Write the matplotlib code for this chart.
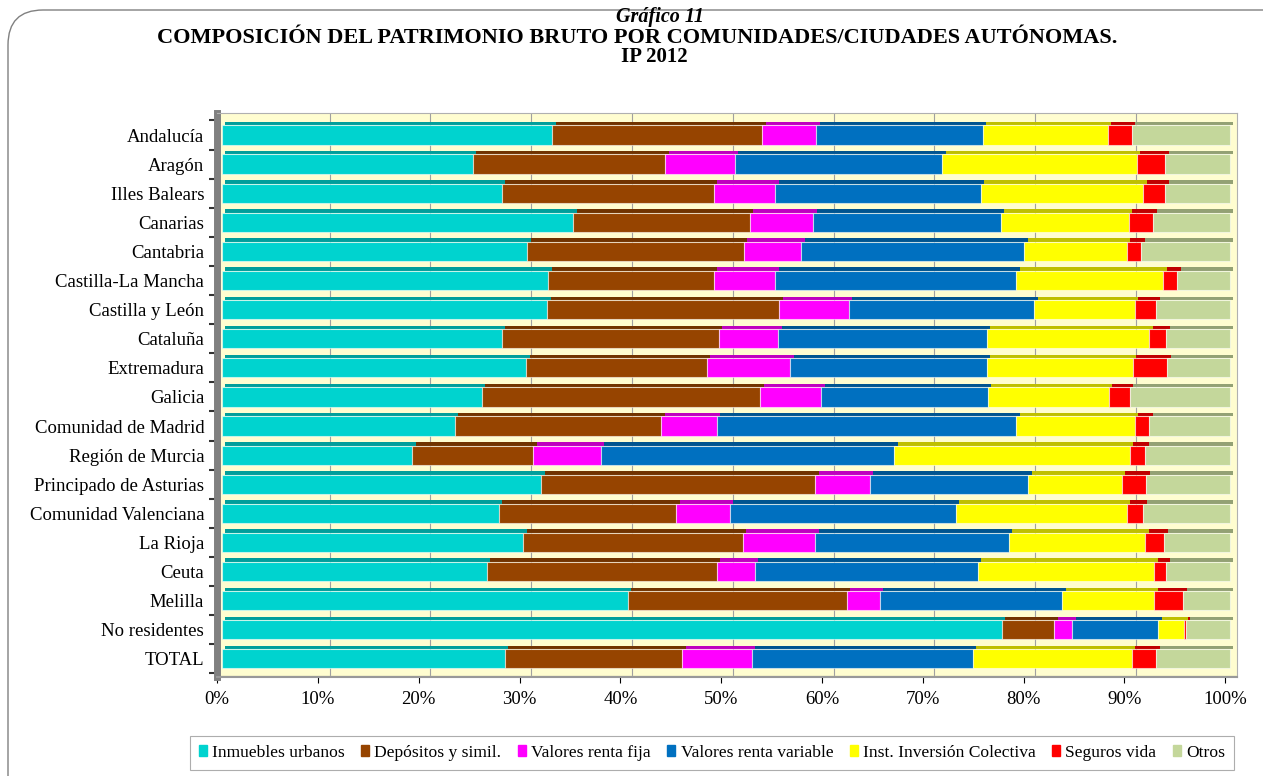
import numpy as np
import matplotlib.pyplot as plt
from matplotlib.patches import FancyBboxPatch, Rectangle
from matplotlib.colors import to_rgb

plt.rcParams['font.family'] = ['Liberation Serif', 'DejaVu Serif']

regions = ["Andalucía", "Aragón", "Illes Balears", "Canarias", "Cantabria",
           "Castilla-La Mancha", "Castilla y León", "Cataluña", "Extremadura",
           "Galicia", "Comunidad de Madrid", "Región de Murcia",
           "Principado de Asturias", "Comunidad Valenciana", "La Rioja",
           "Ceuta", "Melilla", "No residentes", "TOTAL"]

series = ["Inmuebles urbanos", "Depósitos y simil.", "Valores renta fija",
          "Valores renta variable", "Inst. Inversión Colectiva",
          "Seguros vida", "Otros"]

# percentages
inmuebles = [32.8, 24.9, 27.8, 34.9, 30.3, 32.4, 32.3, 27.8, 30.2, 25.8,
             23.1, 18.9, 31.7, 27.5, 29.9, 26.3, 40.3, 77.4, 28.1]
depositos = [20.8, 19.1, 21.0, 17.5, 21.5, 16.4, 23.0, 21.5, 17.9, 27.6,
             20.5, 12.0, 27.2, 17.6, 21.8, 22.8, 21.7, 5.2, 17.6]
renta_fija = [5.4, 6.9, 6.1, 6.3, 5.7, 6.1, 6.9, 5.9, 8.3, 6.1,
              5.5, 6.7, 5.4, 5.3, 7.2, 3.8, 3.3, 1.8, 6.9]
renta_variable = [16.5, 20.6, 20.4, 18.6, 22.1, 23.9, 18.4, 20.7, 19.5, 16.5,
                  29.7, 29.1, 15.7, 22.4, 19.2, 22.1, 18.1, 8.5, 21.9]
iic = [12.4, 19.3, 16.1, 12.7, 10.2, 14.6, 10.0, 16.1, 14.5, 12.0,
       11.8, 23.4, 9.3, 17.0, 13.5, 17.5, 9.1, 2.6, 15.8]
seguros = [2.4, 2.8, 2.2, 2.4, 1.4, 1.4, 2.1, 1.7, 3.4, 2.1,
           1.4, 1.5, 2.4, 1.6, 1.9, 1.2, 2.9, 0.2, 2.4]
otros = [9.7, 6.4, 6.4, 7.6, 8.8, 5.2, 7.3, 6.3, 6.2, 9.9,
         8.0, 8.4, 8.3, 8.6, 6.5, 6.3, 4.6, 4.3, 7.3]

colors = ["#00D3CF", "#964400", "#FF00FF", "#0070C0", "#FFFF00", "#FF0000", "#C4D79B"]

data = np.array([inmuebles, depositos, renta_fija, renta_variable, iic, seguros, otros])

fig = plt.figure(figsize=(12.63, 7.76), dpi=100)

# rounded outer frame
frame = FancyBboxPatch((0.08, -1.0), 14.0, 8.66, boxstyle="round,pad=0,rounding_size=0.35",
                       transform=fig.dpi_scale_trans, fill=False, ec="#808080", lw=1.0)
fig.add_artist(frame)

fig.text(660 / 1263, 1 - 17 / 776, "Gráfico 11", ha="center", va="center", fontsize=14.5,
         fontweight="bold", fontstyle="italic")
fig.text(637 / 1263, 1 - 38 / 776,
         "COMPOSICIÓN DEL PATRIMONIO BRUTO POR COMUNIDADES/CIUDADES AUTÓNOMAS.",
         ha="center", va="center", fontsize=16, fontweight="bold")
fig.text(654 / 1263, 1 - 57 / 776, "IP 2012", ha="center", va="center", fontsize=15,
         fontweight="bold")

# x: 0% of bar faces at 221.7 px, 10.08 px per percent
x_lo, x_hi = -0.5, 100.7
left_px = 221.7 + x_lo * 10.08
right_px = 221.7 + x_hi * 10.08
ax = fig.add_axes([left_px / 1263, 1 - 677 / 776, (right_px - left_px) / 1263, (677 - 113) / 776])
ax.set_facecolor("#FFFDD0")

y = np.arange(len(regions))
h = 0.66
lefts = np.zeros(len(regions))
for vals, col in zip(data, colors):
    dark = tuple(c * 0.75 for c in to_rgb(col))
    # thin top face to give the 3-D look
    ax.barh(y - h / 2 - 0.06, vals, left=lefts + 0.35, height=0.12, color=dark,
            edgecolor="none", zorder=2)
    ax.barh(y, vals, left=lefts, height=h, color=col, edgecolor=(1, 1, 1, 0.55),
            linewidth=0.8, zorder=3)
    lefts += vals

# back-wall gridlines
for g in range(10, 100, 10):
    ax.axvline(g + 0.7, color="#A0A0A0", lw=0.8, zorder=1)

# floor strip
ax.add_patch(Rectangle((x_lo, len(regions) - 0.4), x_hi - x_lo, 0.25, color="#CCCCA8", zorder=1))

ticks = np.arange(0, 101, 10)
# front-plane ticks sit slightly left of the bar faces
ax.set_xticks(ticks - 0.45)
ax.set_xticklabels([f"{v}%" for v in ticks], fontsize=13.5)
ax.set_yticks(y)
ax.set_yticklabels(regions, fontsize=13.5)
ax.set_yticks(np.arange(-0.5, len(regions), 1), minor=True)
ax.set_xlim(x_lo, x_hi)
ax.set_ylim(len(regions) - 1 + 0.625, -0.756)
ax.tick_params(axis="y", length=0, pad=9)
ax.tick_params(axis="x", length=4, pad=6, direction="out")
ax.tick_params(axis="y", which="minor", length=6, width=1.5, color="#333333")

ax.spines["left"].set_color("#808080")
ax.spines["left"].set_linewidth(5)
ax.spines["top"].set_color("#B0B0B0")
ax.spines["right"].set_color("#B0B0B0")
ax.spines["bottom"].set_color("#999999")
ax.spines["bottom"].set_linewidth(1.5)

handles = [Rectangle((0, 0), 1, 1, color=c) for c in colors]
leg = fig.legend(handles, series, loc="center", bbox_to_anchor=(712 / 1263, 1 - 753 / 776),
                 ncol=7, fontsize=12.6, frameon=True, fancybox=False, edgecolor="#999999",
                 handlelength=0.45, handleheight=0.6, handletextpad=0.3, columnspacing=0.95,
                 borderpad=0.5)
leg.get_frame().set_linewidth(0.8)

fig.savefig("out.png", dpi=100)
